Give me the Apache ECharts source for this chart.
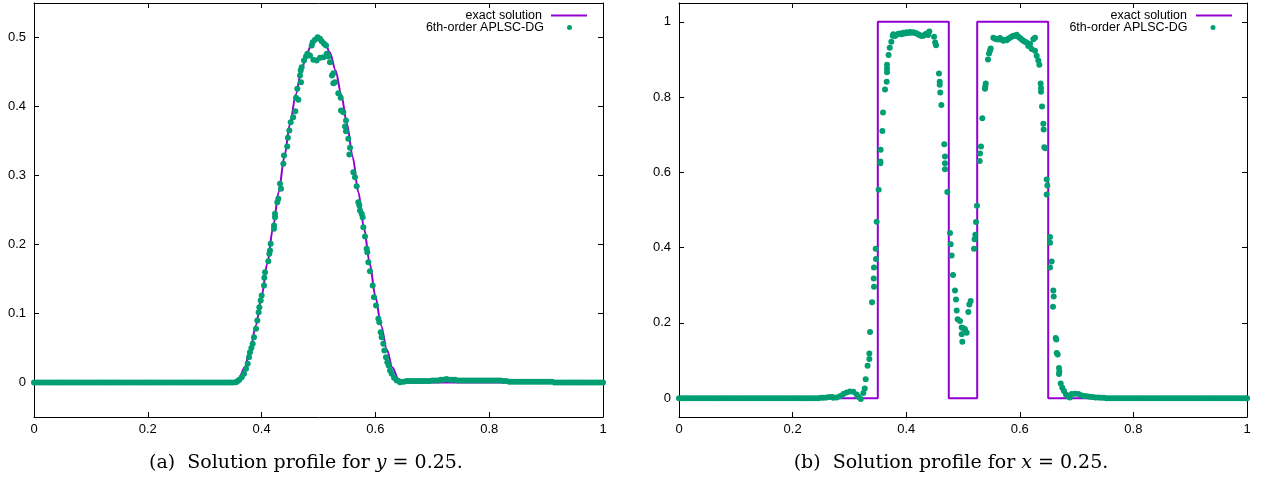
<!DOCTYPE html>
<html>
<head>
<meta charset="utf-8">
<script src="https://cdn.jsdelivr.net/npm/echarts@6/dist/echarts.min.js"></script>
<style>
html,body{margin:0;padding:0;background:#fff;}
#c{width:1261px;height:480px;}
</style>
</head>
<body>
<div id="c"></div>
<script>
// ---------- tick labels ----------
const xTicks = [0, 0.2, 0.4, 0.6, 0.8, 1];
const yTicksA = [0, 0.1, 0.2, 0.3, 0.4, 0.5];
const yTicksB = [0, 0.2, 0.4, 0.6, 0.8, 1];

// ---------- (a) exact solution ----------
const exactA = [
  [0,0],[0.35,0],[0.36,0.0055],[0.37,0.0216],[0.38,0.0477],[0.39,0.0827],[0.40,0.125],
  [0.41,0.1727],[0.42,0.2239],[0.43,0.2761],[0.44,0.3273],[0.45,0.375],[0.46,0.4173],
  [0.47,0.4523],[0.48,0.4784],[0.49,0.4945],[0.50,0.5],[0.51,0.4945],[0.52,0.4784],
  [0.53,0.4523],[0.54,0.4173],[0.55,0.375],[0.56,0.3273],[0.57,0.2761],[0.58,0.2239],
  [0.59,0.1727],[0.60,0.125],[0.61,0.0827],[0.62,0.0477],[0.63,0.0216],[0.64,0.0055],
  [0.65,0],[1,0]
];

// ---------- (a) numerical solution ----------
const numA = [
  [0,0],[0.005,0],[0.01,0],[0.015,0],[0.02,0],[0.025,0],[0.03,0],[0.035,0],[0.04,0],[0.045,0],
  [0.05,0],[0.055,0],[0.06,0],[0.065,0],[0.07,0],[0.075,0],[0.08,0],[0.085,0],[0.09,0],[0.095,0],
  [0.1,0],[0.105,0],[0.11,0],[0.115,0],[0.12,0],[0.125,0],[0.13,0],[0.135,0],[0.14,0],[0.145,0],
  [0.15,0],[0.155,0],[0.16,0],[0.165,0],[0.17,0],[0.175,0],[0.18,0],[0.185,0],[0.19,0],[0.195,0],
  [0.2,0],[0.205,0],[0.21,0],[0.215,0],[0.22,0],[0.225,0],[0.23,0],[0.235,0],[0.24,0],[0.245,0],
  [0.25,0],[0.255,0],[0.26,0],[0.265,0],[0.27,0],[0.275,0],[0.28,0],[0.285,0],[0.29,0],[0.295,0],
  [0.3,0],[0.305,0],[0.31,0],[0.315,0],[0.32,0],[0.325,0],[0.33,0],[0.335,0],[0.34,0],[0.345,0],
  [0.35,0],[0.355,0.0005],[0.358,0.002],[0.3609,0.0039],[0.365,0.0077],[0.3691,0.0126],[0.3726,0.0198],
  [0.3755,0.0271],[0.3779,0.0367],[0.3796,0.044],[0.382,0.05],[0.3843,0.056],[0.3866,0.0657],
  [0.3902,0.0778],[0.3925,0.0899],[0.3948,0.1019],[0.396,0.1092],[0.3984,0.1188],[0.4001,0.1261],
  [0.4042,0.1406],[0.4048,0.1517],[0.406,0.1599],[0.4118,0.1758],[0.4136,0.1865],[0.4148,0.1913],
  [0.4159,0.201],[0.4218,0.2227],[0.4218,0.2275],[0.4236,0.2396],[0.4236,0.2444],[0.4276,0.2613],
  [0.4294,0.2662],[0.4323,0.2879],[0.4341,0.2807],[0.4382,0.3169],[0.4394,0.329],[0.445,0.342],
  [0.4462,0.3546],[0.4487,0.3652],[0.4511,0.3773],[0.4555,0.3845],[0.4593,0.3932],[0.4605,0.4126],
  [0.4646,0.4097],[0.4628,0.4256],[0.4692,0.4353],[0.4675,0.4449],[0.4687,0.4522],[0.4704,0.457],
  [0.4745,0.4667],[0.478,0.4725],[0.4804,0.4763],[0.4851,0.4739],[0.488,0.4884],[0.4897,0.4932],
  [0.4909,0.4676],[0.4938,0.4966],[0.4968,0.4667],[0.4985,0.5005],[0.5026,0.4981],[0.5026,0.4705],
  [0.5056,0.4947],[0.5085,0.4715],[0.5097,0.4908],[0.5132,0.4884],[0.5144,0.4763],[0.5173,0.4725],
  [0.5202,0.4642],[0.5237,0.4449],[0.5261,0.4483],[0.5261,0.4338],[0.529,0.4353],[0.5348,0.4193],
  [0.5395,0.3942],[0.539,0.4126],[0.5436,0.3918],[0.5466,0.371],[0.5483,0.3797],[0.5483,0.3642],
  [0.5524,0.3531],[0.5542,0.3304],[0.5554,0.3401],[0.5612,0.3048],[0.5641,0.2976],[0.5671,0.2845],
  [0.57,0.2613],[0.5718,0.2565],[0.5729,0.2493],[0.5759,0.2444],[0.5776,0.2396],[0.5788,0.2251],
  [0.5817,0.2116],[0.5846,0.1937],[0.5858,0.1889],[0.5876,0.1744],[0.5905,0.1614],[0.5952,0.1406],
  [0.5975,0.1237],[0.6011,0.1116],[0.6052,0.0923],[0.6069,0.0874],[0.6093,0.0729],[0.611,0.0657],
  [0.6139,0.056],[0.6157,0.0464],[0.6186,0.0367],[0.621,0.0295],[0.6233,0.0246],[0.6257,0.0174],
  [0.6286,0.0126],[0.6327,0.0068],[0.6374,0.0029],[0.6432,0.0005],
  [0.645,0.001],[0.65,0.001],[0.655,0.002],[0.66,0.002],[0.665,0.002],[0.67,0.002],[0.675,0.002],
  [0.68,0.002],[0.685,0.002],[0.69,0.002],[0.695,0.002],[0.7,0.003],[0.705,0.003],[0.71,0.003],
  [0.715,0.004],[0.72,0.004],[0.725,0.005],[0.73,0.004],[0.735,0.004],[0.74,0.004],[0.745,0.003],
  [0.75,0.003],[0.755,0.003],[0.76,0.003],[0.765,0.003],[0.77,0.003],[0.775,0.003],[0.78,0.003],
  [0.785,0.003],[0.79,0.003],[0.795,0.003],[0.8,0.003],[0.805,0.003],[0.81,0.003],[0.815,0.003],
  [0.82,0.003],[0.825,0.002],[0.83,0.002],[0.835,0.001],[0.84,0.001],[0.845,0.001],[0.85,0.001],
  [0.855,0.001],[0.86,0.001],[0.865,0.001],[0.87,0.001],[0.875,0.001],[0.88,0.001],[0.885,0.001],
  [0.89,0.001],[0.895,0.001],[0.9,0.001],[0.905,0.001],[0.91,0.001],[0.915,0],[0.92,0],[0.925,0],
  [0.93,0],[0.935,0],[0.94,0],[0.945,0],[0.95,0],[0.955,0],[0.96,0],[0.965,0],[0.97,0],[0.975,0],
  [0.98,0],[0.985,0],[0.99,0],[0.995,0],[1,0]
];

// ---------- (b) exact solution ----------
const exactB = [
  [0,0],[0.35,0],[0.35,1],[0.475,1],[0.475,0],[0.525,0],[0.525,1],[0.65,1],[0.65,0],[1,0]
];

// ---------- (b) numerical solution ----------
const numB = [
  [0,0],[0.005,0],[0.01,0],[0.015,0],[0.02,0],[0.025,0],[0.03,0],[0.035,0],[0.04,0],[0.045,0],
  [0.05,0],[0.055,0],[0.06,0],[0.065,0],[0.07,0],[0.075,0],[0.08,0],[0.085,0],[0.09,0],[0.095,0],
  [0.1,0],[0.105,0],[0.11,0],[0.115,0],[0.12,0],[0.125,0],[0.13,0],[0.135,0],[0.14,0],[0.145,0],
  [0.15,0],[0.155,0],[0.16,0],[0.165,0],[0.17,0],[0.175,0],[0.18,0],[0.185,0],[0.19,0],[0.195,0],
  [0.2,0],[0.205,0],[0.21,0],[0.215,0],[0.22,0],[0.225,0],[0.23,0],[0.235,0],[0.24,0],[0.245,0],
  [0.25,0.001],[0.255,0.001],[0.26,0.002],[0.265,0.003],[0.27,0.003],[0.2717,0.001],[0.2776,0.002],
  [0.2835,0.005],[0.2893,0.011],[0.2952,0.015],[0.3011,0.018],[0.3069,0.017],[0.3128,0.01],
  [0.316,0.004],[0.32,-0.002],[0.3245,0.014],[0.327,0.026],[0.3287,0.05],[0.332,0.086],
  [0.3351,0.104],[0.3351,0.119],[0.3363,0.176],[0.3398,0.255],[0.3433,0.296],[0.3428,0.318],
  [0.3433,0.347],[0.3468,0.37],[0.3463,0.397],[0.348,0.469],[0.3515,0.554],[0.3545,0.624],
  [0.3545,0.629],[0.355,0.66],[0.358,0.71],[0.3592,0.759],[0.3627,0.82],[0.3657,0.841],
  [0.3662,0.866],[0.3662,0.875],[0.3662,0.886],[0.369,0.912],[0.371,0.931],[0.3738,0.947],
  [0.3762,0.963],[0.3773,0.967],[0.3803,0.962],[0.3833,0.9655],[0.3862,0.968],[0.3891,0.969],
  [0.392,0.967],[0.3949,0.971],[0.3978,0.969],[0.4008,0.972],[0.4037,0.97],[0.4067,0.973],
  [0.4096,0.971],[0.4125,0.972],[0.4155,0.97],[0.4184,0.969],[0.4213,0.966],[0.4243,0.964],
  [0.4272,0.962],[0.4301,0.963],[0.4331,0.966],[0.4361,0.969],[0.4385,0.965],[0.4407,0.974],
  [0.449,0.96],[0.451,0.945],[0.4525,0.938],[0.4577,0.863],[0.459,0.841],[0.459,0.833],
  [0.46,0.812],[0.4619,0.779],[0.467,0.675],[0.4683,0.642],[0.4683,0.624],[0.4683,0.608],
  [0.4724,0.548],[0.4771,0.439],[0.4783,0.409],[0.48,0.379],[0.4824,0.327],[0.4859,0.286],
  [0.4877,0.262],[0.4889,0.233],[0.4907,0.21],[0.4947,0.205],[0.4977,0.188],[0.4977,0.17],
  [0.4988,0.15],[0.5005,0.186],[0.5035,0.183],[0.5065,0.174],[0.5094,0.229],[0.5111,0.249],
  [0.5135,0.258],[0.5194,0.397],[0.5205,0.422],[0.5217,0.434],[0.5229,0.468],[0.5246,0.511],
  [0.5294,0.63],[0.53,0.65],[0.5317,0.669],[0.534,0.744],[0.5387,0.822],[0.5393,0.829],
  [0.54,0.836],[0.544,0.9],[0.5458,0.916],[0.5475,0.923],[0.5487,0.929],[0.5534,0.958],
  [0.5563,0.955],[0.5593,0.954],[0.5622,0.953],[0.5651,0.957],[0.568,0.953],[0.571,0.95],
  [0.574,0.952],[0.5769,0.951],[0.5798,0.955],[0.5827,0.958],[0.5856,0.96],[0.5886,0.963],
  [0.5915,0.962],[0.5945,0.9655],[0.5975,0.96],[0.6004,0.957],[0.6033,0.953],[0.6062,0.95],
  [0.6092,0.947],[0.6121,0.945],[0.615,0.936],[0.618,0.941],[0.6209,0.928],[0.6238,0.954],
  [0.6268,0.958],[0.6268,0.923],[0.6297,0.91],[0.6326,0.897],[0.6344,0.886],[0.6367,0.836],
  [0.6373,0.824],[0.6373,0.814],[0.6391,0.775],[0.6414,0.729],[0.642,0.714],[0.6431,0.667],
  [0.6449,0.664],[0.6473,0.581],[0.6485,0.565],[0.6473,0.541],[0.6532,0.428],[0.6532,0.413],
  [0.6561,0.363],[0.6532,0.347],[0.659,0.286],[0.6597,0.27],[0.6585,0.243],[0.6632,0.16],
  [0.6643,0.156],[0.665,0.12],[0.6667,0.116],[0.669,0.08],[0.6696,0.07],[0.669,0.064],
  [0.672,0.039],[0.6748,0.028],[0.6778,0.019],[0.6813,0.01],[0.6849,0.005],[0.688,0.002],
  [0.6913,0.011],[0.6972,0.012],[0.703,0.011],[0.708,0.008],[0.713,0.006],[0.718,0.005],
  [0.723,0.004],[0.728,0.003],[0.733,0.002],[0.738,0.002],[0.743,0.001],[0.748,0.001],
  [0.753,0],[0.758,0],[0.763,0],[0.768,0],[0.773,0],[0.778,0],[0.783,0],[0.788,0],[0.793,0],
  [0.798,0],[0.803,0],[0.808,0],[0.813,0],[0.818,0],[0.823,0],[0.828,0],[0.833,0],[0.838,0],
  [0.843,0],[0.848,0],[0.853,0],[0.858,0],[0.863,0],[0.868,0],[0.873,0],[0.878,0],[0.883,0],
  [0.888,0],[0.893,0],[0.898,0],[0.903,0],[0.908,0],[0.913,0],[0.918,0],[0.923,0],[0.928,0],
  [0.933,0],[0.938,0],[0.943,0],[0.948,0],[0.953,0],[0.958,0],[0.963,0],[0.968,0],[0.973,0],
  [0.978,0],[0.983,0],[0.988,0],[0.993,0],[0.998,0],[1,0]
];

const seriesNames = ['exact solution', '6th-order APLSC-DG'];
const captions = ['(a)', '(b)'];
const captionVars = ['y', 'x'];
const captionValues = ['0.25', '0.25'];

// ---------- styling ----------
const PURPLE = '#9400D3';
const GREEN = '#009E73';
const FONT = '"Liberation Sans", Arial, sans-serif';
const SERIF = '"DejaVu Serif", "Liberation Serif", serif';

function xAxes(gi) {
  const base = {
    type: 'value', gridIndex: gi, min: 0, max: 1, interval: 0.2,
    axisLine: { show: true, onZero: false, lineStyle: { color: '#000', width: 1 } },
    axisTick: { show: true, inside: true, length: 5, lineStyle: { color: '#000', width: 1 }, customValues: xTicks },
    splitLine: { show: false }
  };
  return [
    Object.assign({}, base, { position: 'bottom',
      axisLabel: { show: true, customValues: xTicks, color: '#000', fontFamily: FONT, fontSize: 13, margin: 6 } }),
    Object.assign({}, base, { position: 'top', axisLabel: { show: false } })
  ];
}
function yAxes(gi, min, max, ticks) {
  const base = {
    type: 'value', gridIndex: gi, min: min, max: max,
    axisLine: { show: true, onZero: false, lineStyle: { color: '#000', width: 1 } },
    axisTick: { show: true, inside: true, length: 5, lineStyle: { color: '#000', width: 1 }, customValues: ticks },
    splitLine: { show: false }
  };
  return [
    Object.assign({}, base, { position: 'left',
      axisLabel: { show: true, customValues: ticks, color: '#000', fontFamily: FONT, fontSize: 13, margin: 8 } }),
    Object.assign({}, base, { position: 'right', axisLabel: { show: false } })
  ];
}
function legends(rightLine, rightDot) {
  const ts = { color: '#000', fontFamily: FONT, fontSize: 12.5 };
  return [
    { data: [{ name: seriesNames[0], icon: 'rect' }], right: rightLine, top: 4, orient: 'vertical', align: 'right',
      itemWidth: 36, itemHeight: 2, selectedMode: false,
      textStyle: Object.assign({ padding: [0, 4, 0, 0] }, ts) },
    { data: [{ name: seriesNames[1], icon: 'circle' }], right: rightDot, top: 16, orient: 'vertical', align: 'right',
      itemWidth: 5, itemHeight: 5, selectedMode: false,
      textStyle: Object.assign({ padding: [0, 18, 0, 0] }, ts) }
  ];
}
function caption(i, cx) {
  return {
    type: 'text', x: cx, y: 463,
    style: {
      text: '{n|' + captions[i] + '  Solution profile for }{i|' + captionVars[i] + '}{n| = ' + captionValues[i] + '.}',
      align: 'center', verticalAlign: 'middle',
      rich: {
        n: { fontFamily: SERIF, fontSize: 19, fill: '#000' },
        i: { fontFamily: SERIF, fontSize: 19, fontStyle: 'italic', fill: '#000' }
      }
    }
  };
}

const chart = echarts.init(document.getElementById('c'), null, { renderer: 'canvas' });
chart.setOption({
  animation: false,
  backgroundColor: '#fff',
  grid: [
    { left: 34, top: 3, width: 569, height: 414 },
    { left: 679, top: 3, width: 568, height: 414 }
  ],
  xAxis: xAxes(0).concat(xAxes(1)),
  yAxis: yAxes(0, -0.05, 0.55, yTicksA).concat(yAxes(1, -0.05, 1.05, yTicksB)),
  legend: legends(669, 684).concat(legends(24, 40.5)),
  graphic: [caption(0, 306), caption(1, 951)],
  series: [
    { name: seriesNames[0], type: 'line', xAxisIndex: 0, yAxisIndex: 0, data: exactA,
      symbol: 'none', smooth: 0.3, smoothMonotone: 'x', lineStyle: { color: PURPLE, width: 2 },
      itemStyle: { color: PURPLE }, z: 2 },
    { name: seriesNames[1], type: 'scatter', xAxisIndex: 0, yAxisIndex: 0, data: numA,
      symbol: 'circle', symbolSize: 6, itemStyle: { color: GREEN, opacity: 1 }, z: 3 },
    { name: seriesNames[0], type: 'line', xAxisIndex: 2, yAxisIndex: 2, data: exactB,
      symbol: 'none', lineStyle: { color: PURPLE, width: 2 },
      itemStyle: { color: PURPLE }, z: 2 },
    { name: seriesNames[1], type: 'scatter', xAxisIndex: 2, yAxisIndex: 2, data: numB,
      symbol: 'circle', symbolSize: 6, itemStyle: { color: GREEN, opacity: 1 }, z: 3 }
  ]
});
</script>
</body>
</html>
